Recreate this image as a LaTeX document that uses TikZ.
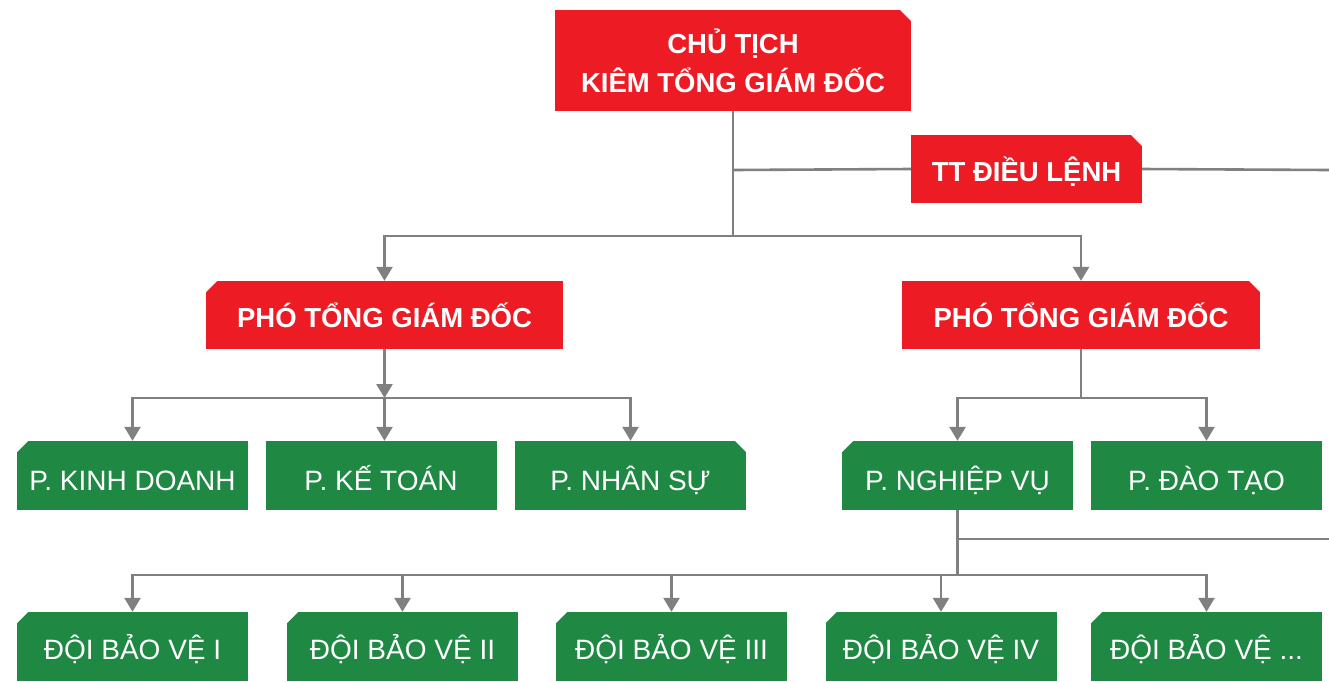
\documentclass[tikz,border=0pt]{standalone}
\usepackage{fontspec}
\setmainfont{Liberation Sans}
\usetikzlibrary{arrows.meta,calc}
\definecolor{orgred}{HTML}{ED1C24}
\definecolor{orggreen}{HTML}{1F8944}
\definecolor{lineg}{HTML}{808080}
\tikzset{
  cutNE/.style={path picture={\fill[white] ([xshift=-11pt]path picture bounding box.north east) -- ([xshift=1pt,yshift=1pt]path picture bounding box.north east) -- ([yshift=-11pt]path picture bounding box.north east) -- cycle;}},
  cutNW/.style={path picture={\fill[white] ([xshift=11pt]path picture bounding box.north west) -- ([xshift=-1pt,yshift=1pt]path picture bounding box.north west) -- ([yshift=-11pt]path picture bounding box.north west) -- cycle;}},
  redbox/.style={rectangle, fill=orgred, text=white, inner sep=0pt, align=center,
    font=\bfseries\fontsize{27.5}{39}\selectfont},
  redone/.style={redbox, text height=24pt, text depth=0pt},
  greenbox/.style={rectangle, fill=orggreen, text=white, inner sep=0pt, align=center,
    minimum width=231pt, minimum height=69pt, text height=29pt, text depth=0pt,
    font=\fontsize{28}{30}\selectfont},
  teambox/.style={greenbox, cutNW, text height=26pt},
  conn/.style={draw=lineg, line width=2.6pt},
  arr/.style={conn, -{Triangle[width=16pt,length=14pt]}, shorten >=0pt},
}
\begin{document}
\begin{tikzpicture}[x=1pt,y=-1pt]
\useasboundingbox (0,0) rectangle (1329,681);
\fill[white] (0,0) rectangle (1329,681);
% red boxes
\node[redbox, cutNE, minimum width=356pt, minimum height=101pt] (ct) at (733,60.5) {CHỦ TỊCH\\KIÊM TỔNG GIÁM ĐỐC};
\node[redone, cutNE, minimum width=231pt, minimum height=68pt] (tt) at (1026.5,169) {TT ĐIỀU LỆNH};
\node[redone, cutNW, minimum width=357pt, minimum height=68pt] (p1) at (384.5,315) {PHÓ TỔNG GIÁM ĐỐC};
\node[redone, cutNE, minimum width=358pt, minimum height=68pt] (p2) at (1081,315) {PHÓ TỔNG GIÁM ĐỐC};
% green departments
\node[greenbox, cutNW] (g1) at (132.5,475.5) {P. KINH DOANH};
\node[greenbox] (g2) at (381,475.5) {P. KẾ TOÁN};
\node[greenbox, cutNE] (g3) at (630.5,475.5) {P. NHÂN SỰ};
\node[greenbox, cutNW] (g4) at (957.5,475.5) {P. NGHIỆP VỤ};
\node[greenbox] (g5) at (1206.5,475.5) {P. ĐÀO TẠO};
% teams
\node[teambox] (d1) at (132.5,646.5) {ĐỘI BẢO VỆ I};
\node[teambox] (d2) at (402.5,646.5) {ĐỘI BẢO VỆ II};
\node[teambox] (d3) at (671.5,646.5) {ĐỘI BẢO VỆ III};
\node[teambox] (d4) at (941,646.5) {ĐỘI BẢO VỆ IV};
\node[teambox] (d5) at (1206.5,646.5) {ĐỘI BẢO VỆ ...};
% junctions
\coordinate (j0) at (733,170);
\coordinate (j1) at (733,236);
\coordinate (ttend) at (1329,170);
\coordinate (j2) at (384.5,398);
\coordinate (j3) at (1081,398);
\coordinate (j5) at (957.5,539);
\coordinate (nvend) at (1329,539);
\coordinate (j4) at (957.5,575);
% connectors
\draw[conn] (ct.south) -- (j1);
\draw[conn] (j0) -- (tt.west);
\draw[conn] (tt.east) -- (ttend);
\draw[arr] (j1) -| (p1.north);
\draw[arr] (j1) -| (p2.north);
\draw[arr] (p1.south) -- (j2);
\draw[arr] (j2) -| (g1.north);
\draw[arr] (j2) -- (j2 |- g2.north);
\draw[arr] (j2) -| (g3.north);
\draw[conn] (p2.south) -- (j3);
\draw[arr] (j3) -| (g4.north);
\draw[arr] (j3) -| (g5.north);
\draw[conn] (g4.south) -- (j4);
\draw[conn] (j5) -- (nvend);
\draw[arr] (j4) -| (d1.north);
\draw[arr] (j4) -| (d2.north);
\draw[arr] (j4) -| (d3.north);
\draw[arr] (j4) -| (d4.north);
\draw[arr] (j4) -| (d5.north);
\end{tikzpicture}
\end{document}
